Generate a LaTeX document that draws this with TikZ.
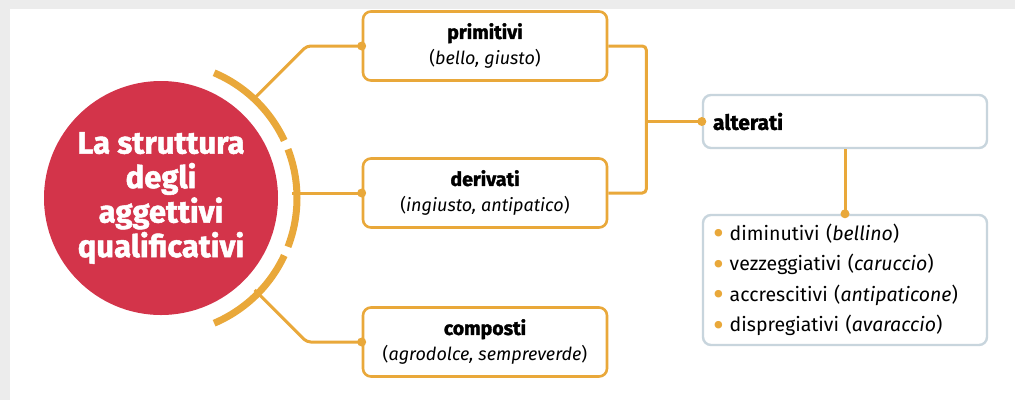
\documentclass[tikz,border=0pt]{standalone}
\usepackage{fontspec}
\setmainfont{Fira Sans}
\newfontfamily\grassetto[FakeBold=1.6]{Fira Sans Bold}
\usetikzlibrary{positioning, calc}
\definecolor{rosso}{HTML}{D3344A}
\definecolor{arancio}{HTML}{E9A83A}
\definecolor{grigioblu}{HTML}{C8D5DD}
\newcommand{\voce}[2]{\textcolor{arancio}{\raisebox{-4.5pt}{\scalebox{1.7}{\textbullet}}}\hspace{6pt}#1 (\textit{#2})}

\begin{document}
\begin{tikzpicture}[x=1pt, y=-1pt,
    titolo/.style={circle, fill=rosso, minimum size=234pt, inner sep=0pt, text=white, align=center, font=\fontsize{31}{34.5}\selectfont\grassetto},
    anello/.style={arancio, line width=7pt},
    ramo/.style={arancio, line width=3pt, rounded corners=4pt},
    scatola/.style={draw=arancio, line width=2.6pt, rounded corners=8pt, fill=white, minimum width=244pt, minimum height=69pt, align=center, font=\fontsize{18}{26}\selectfont},
    riquadro/.style={draw=grigioblu, line width=2.4pt, rounded corners=8pt, fill=white, text width=264pt, inner xsep=10pt, align=left, font=\fontsize{19.5}{30.5}\selectfont},
    punto/.style={circle, fill=arancio, inner sep=0pt, minimum size=9pt}]
  \useasboundingbox (0,0) rectangle (1015,400);
  \fill[gray!15] (0,0) rectangle (1015,400);
  \fill[white] (10,9) rectangle (1015,400);

  \node[titolo] (tit) at (161,198) {La struttura\\degli\\aggettivi\\qualificativi};

  \node[scatola] (prim) at (485,46) {{\fontsize{19.5}{26}\selectfont\grassetto primitivi}\\(\textit{bello, giusto})};
  \node[scatola] (deri) at (485,193) {{\fontsize{19.5}{26}\selectfont\grassetto derivati}\\(\textit{ingiusto, antipatico})};
  \node[scatola] (comp) at (485,342) {{\fontsize{19.5}{26}\selectfont\grassetto composti}\\(\textit{agrodolce, sempreverde})};

  \node[riquadro, minimum height=53pt] (alt) at (845,121.5) {{\fontsize{21}{26}\selectfont\grassetto alterati}};
  \node[riquadro, minimum height=130pt] (lst) at (845,280) {\voce{diminutivi}{bellino}\\\voce{vezzeggiativi}{caruccio}\\\voce{accrescitivi}{antipaticone}\\\voce{dispregiativi}{avaraccio}};

  \draw[ramo] (prim.west) -- ++(-55,0) -- ++(-52,52);
  \draw[ramo] (deri.west) -- ++(-70,0);
  \draw[ramo] (comp.west) -- ++(-55,0) -- ++(-52,-52);

  \draw[anello] ($(tit.center)+(-67:136)$) arc[start angle=-67, end angle=-25, radius=136];
  \draw[anello] ($(tit.center)+(-21:136)$) arc[start angle=-21, end angle=21, radius=136];
  \draw[anello] ($(tit.center)+(25:136)$) arc[start angle=25, end angle=67, radius=136];

  \coordinate (giunto) at ($(prim.east)+(38,0)$);
  \draw[ramo] (prim.east) -- (giunto) |- (deri.east);
  \draw[ramo] (giunto |- alt.west) -- (alt.west);
  \draw[ramo] (alt.south) -- (lst.north);

  \node[punto] (p1) at (prim.west) {};
  \node[punto] (p2) at (deri.west) {};
  \node[punto] (p3) at (comp.west) {};
  \node[punto] (p4) at (alt.west) {};
  \node[punto] (p5) at (lst.north) {};
\end{tikzpicture}
\end{document}
